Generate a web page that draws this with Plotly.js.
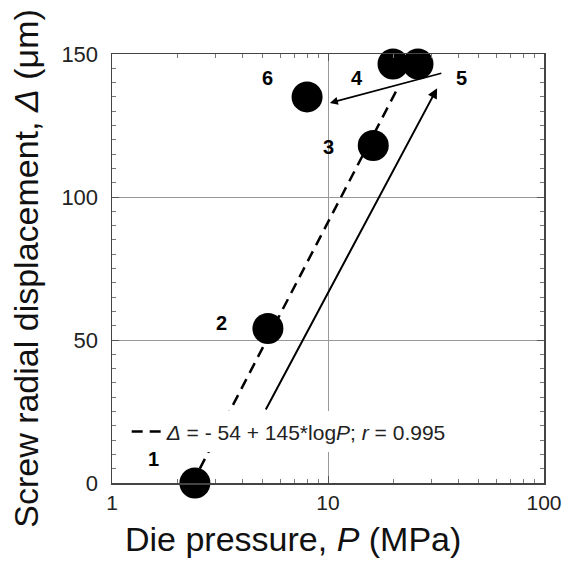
<!DOCTYPE html>
<html>
<head>
<meta charset="utf-8">
<script src="https://cdn.plot.ly/plotly-3.0.1.min.js"></script>
<style>html,body{margin:0;padding:0;background:#fff}#chart{width:572px;height:563px}</style>
</head>
<body>
<div id="chart"></div>
<script>
// Data
var pointLabels = ['1', '2', '3', '4', '5', '6'];
var pressure = [2.42, 5.27, 16.2, 20.0, 26.1, 8.0];       // MPa
var displacement = [0, 54, 118, 146.5, 146.5, 135];         // µm

// Dashed fit line endpoints (as drawn)
var fitP = [2.55, 21.0];
var fitD = [5, 138];

// Arrows: tail -> head
var arrowTailP = [5.11, 34.0];
var arrowTailD = [25.2, 143.4];
var arrowHeadP = [32.0, 10.2];
var arrowHeadD = [138.0, 132.9];
var arrowWidths = [2, 1.6];

// Label positions
var labelP = [1.55, 3.23, 10.1, 13.6, 41.7, 5.27];
var labelD = [8.4, 56, 117.5, 141.6, 141.6, 141.6];

var xTicks = [1, 10, 100];
var yTicks = [0, 50, 100, 150];

var xTitle = 'Die pressure, <i>P</i> (MPa)';
var yTitle = 'Screw radial displacement, <i>Δ</i> (μm)';

var FONT = 'Arial, "Liberation Sans", sans-serif';

var traces = [
  {
    x: fitP, y: fitD, mode: 'lines', type: 'scatter',
    line: {color: '#000', width: 2.5, dash: '11px,7px'},
    name: '<i>Δ</i> = - 54 + 145*log<i>P</i>; <i>r</i> = 0.995',
    showlegend: true, hoverinfo: 'skip'
  },
  {
    x: pressure, y: displacement, mode: 'markers', type: 'scatter',
    marker: {color: '#000', size: 31},
    cliponaxis: false, showlegend: false
  }
];

var annotations = [];
for (var i = 0; i < arrowTailP.length; i++) {
  annotations.push({
    x: Math.log10(arrowHeadP[i]), y: arrowHeadD[i],
    ax: Math.log10(arrowTailP[i]), ay: arrowTailD[i],
    xref: 'x', yref: 'y', axref: 'x', ayref: 'y',
    text: '', showarrow: true, arrowhead: 2, arrowsize: 1,
    arrowwidth: arrowWidths[i], arrowcolor: '#000'
  });
}
for (var j = 0; j < pointLabels.length; j++) {
  annotations.push({
    x: Math.log10(labelP[j]), y: labelD[j], xref: 'x', yref: 'y',
    text: '<b>' + pointLabels[j] + '</b>', showarrow: false,
    font: {family: FONT, size: 20, color: '#000'}
  });
}
// x-axis title (offset left of plot centre as in the reference)
annotations.push({
  x: 0.419, y: -0.1305, xref: 'paper', yref: 'paper',
  xanchor: 'center', yanchor: 'middle',
  text: xTitle, showarrow: false,
  font: {family: FONT, size: 34, color: '#111'}
});

var layout = {
  width: 572, height: 563,
  margin: {l: 112, r: 28, t: 54, b: 80},
  paper_bgcolor: '#fff', plot_bgcolor: '#fff',
  font: {family: FONT, color: '#222'},
  showlegend: true,
  legend: {
    x: 0.034, y: 0.119, xanchor: 'left', yanchor: 'middle',
    bgcolor: '#fff', borderwidth: 0, itemwidth: 30,
    font: {family: FONT, size: 21, color: '#222'}
  },
  xaxis: {
    type: 'log', range: [0, 2],
    tickvals: xTicks, ticktext: xTicks.map(String),
    ticks: 'inside', ticklen: 7, tickcolor: '#555',
    showline: true, linecolor: '#444', linewidth: 1.5, mirror: 'ticks',
    showgrid: true, gridcolor: '#999', gridwidth: 1,
    zeroline: false,
    minor: {ticks: 'inside', ticklen: 4, tickcolor: '#777', dtick: 'D1', showgrid: false},
    tickfont: {family: FONT, size: 21, color: '#222'},
    ticklabelstandoff: 0
  },
  yaxis: {
    range: [0, 150],
    tickvals: yTicks, ticktext: yTicks.map(String),
    ticks: 'inside', ticklen: 7, tickcolor: '#555',
    showline: true, linecolor: '#444', linewidth: 1.5, mirror: 'ticks',
    showgrid: true, gridcolor: '#999', gridwidth: 1,
    zeroline: false,
    minor: {ticks: 'inside', ticklen: 4, tickcolor: '#777', dtick: 5, showgrid: false},
    tickfont: {family: FONT, size: 22, color: '#222'},
    ticklabelstandoff: 8,
    title: {text: yTitle, font: {family: FONT, size: 34, color: '#111'}, standoff: 12}
  },
  annotations: annotations
};

Plotly.newPlot('chart', traces, layout, {displayModeBar: false, staticPlot: true});
</script>
</body>
</html>
